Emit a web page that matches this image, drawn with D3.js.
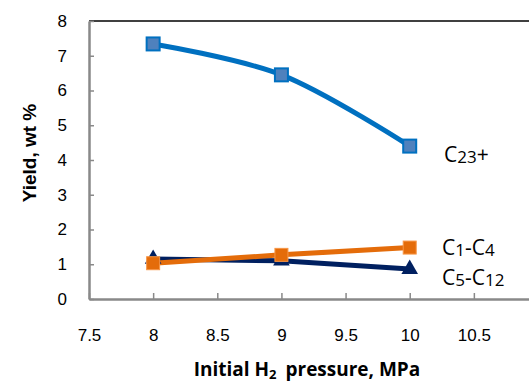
<!DOCTYPE html>
<html>
<head>
<meta charset="utf-8">
<script src="https://cdn.jsdelivr.net/npm/d3@7"></script>
<style>
  html, body { margin: 0; padding: 0; background: #fff; }
  svg { display: block; font-family: "Open Sans", "Liberation Sans", sans-serif; }
</style>
</head>
<body>
<svg id="chart" width="529" height="383"></svg>
<script>
// Initial hydrogen pressure, MPa
const pressure = [8, 9, 10];
// Product yields, wt %
const c23plus = [7.34, 6.45, 4.40];
const c1c4 = [1.03, 1.27, 1.48];
const c5c12 = [1.15, 1.10, 0.86];
const xTicks = [7.5, 8, 8.5, 9, 9.5, 10, 10.5];
const yTicks = [0, 1, 2, 3, 4, 5, 6, 7, 8];

const svg = d3.select("#chart");
const x = d3.scaleLinear().domain([7.5, 11]).range([89, 538]);
const y = d3.scaleLinear().domain([0, 8]).range([299, 21]);

// top frame line
svg.append("line")
  .attr("x1", x(7.5)).attr("x2", 529)
  .attr("y1", y(8)).attr("y2", y(8))
  .attr("stroke", "#000").attr("stroke-width", 1.5);

// left axis (ticks point inward)
const yAxis = svg.append("g").attr("transform", `translate(${x(7.5)},0)`)
  .call(d3.axisLeft(y).tickValues(yTicks).tickSizeInner(-5).tickSizeOuter(0).tickPadding(22));
yAxis.select(".domain").attr("stroke", "#898989").attr("stroke-width", 2.5);
yAxis.selectAll(".tick line").attr("stroke", "#898989").attr("stroke-width", 1.5);
yAxis.selectAll(".tick text").attr("font-size", 17).attr("fill", "#000");

// bottom axis (ticks point inward)
const xAxis = svg.append("g").attr("transform", `translate(0,${y(0)})`)
  .call(d3.axisBottom(x).tickValues(xTicks).tickFormat(d3.format("")).tickSizeInner(-6).tickSizeOuter(0).tickPadding(30));
xAxis.select(".domain").attr("stroke", "#898989").attr("stroke-width", 2.5);
xAxis.selectAll(".tick line").attr("stroke", "#898989").attr("stroke-width", 1.5);
xAxis.selectAll(".tick text").attr("font-size", 17).attr("fill", "#000");

// axis titles
svg.append("text")
  .attr("transform", "translate(36,153) rotate(-90)")
  .attr("text-anchor", "middle")
  .attr("font-family", "'Liberation Sans', Arial, sans-serif")
  .attr("font-size", 19).attr("font-weight", "bold")
  .text("Yield, wt %");

const xt = svg.append("text")
  .attr("x", 307).attr("y", 376)
  .attr("text-anchor", "middle")
  .attr("font-size", 19).attr("font-weight", "bold");
xt.append("tspan").text("Initial H");
xt.append("tspan").attr("font-size", 13).attr("baseline-shift", "-3").text("2");
xt.append("tspan").attr("dx", 4).text(" pressure, MPa");

// series lines
const pts = vals => pressure.map((p, i) => [x(p), y(vals[i])]);
const smooth = d3.line().curve(d3.curveCatmullRom.alpha(0.5));
const straight = d3.line();

svg.append("path").attr("d", smooth(pts(c23plus)))
  .attr("fill", "none").attr("stroke", "#0070C0").attr("stroke-width", 5);
svg.append("path").attr("d", straight(pts(c5c12)))
  .attr("fill", "none").attr("stroke", "#002060").attr("stroke-width", 5);
svg.append("path").attr("d", straight(pts(c1c4)))
  .attr("fill", "none").attr("stroke", "#E46C0A").attr("stroke-width", 5);

// markers
svg.selectAll(".m23").data(pts(c23plus)).join("rect")
  .attr("x", d => d[0] - 6.5).attr("y", d => d[1] - 6.5)
  .attr("width", 13).attr("height", 13)
  .attr("fill", "#4F81BD").attr("stroke", "#0070C0").attr("stroke-width", 2);

const tri = d3.symbol().type(d3.symbolTriangle).size(120);
svg.selectAll(".m512").data(pts(c5c12)).join("path")
  .attr("transform", d => `translate(${d[0]},${d[1]})`)
  .attr("d", tri)
  .attr("fill", "#002060");

svg.selectAll(".m14").data(pts(c1c4)).join("rect")
  .attr("x", d => d[0] - 6.5).attr("y", d => d[1] - 6.5)
  .attr("width", 13).attr("height", 13)
  .attr("fill", "#E46C0A").attr("stroke", "#F79646").attr("stroke-width", 1);

// series labels
function seriesLabel(xp, yp, parts) {
  const t = svg.append("text").attr("x", xp).attr("y", yp).attr("font-size", 21).attr("fill", "#000");
  parts.forEach(([s, sub]) => {
    const ts = t.append("tspan").text(s);
    if (sub) ts.attr("font-size", 17).attr("baseline-shift", "-1");
  });
}
seriesLabel(444, 162, [["C"], ["23", true], ["+"]]);
seriesLabel(442, 255, [["C"], ["1", true], ["-C"], ["4", true]]);
seriesLabel(442, 285, [["C"], ["5", true], ["-C"], ["12", true]]);
</script>
</body>
</html>
